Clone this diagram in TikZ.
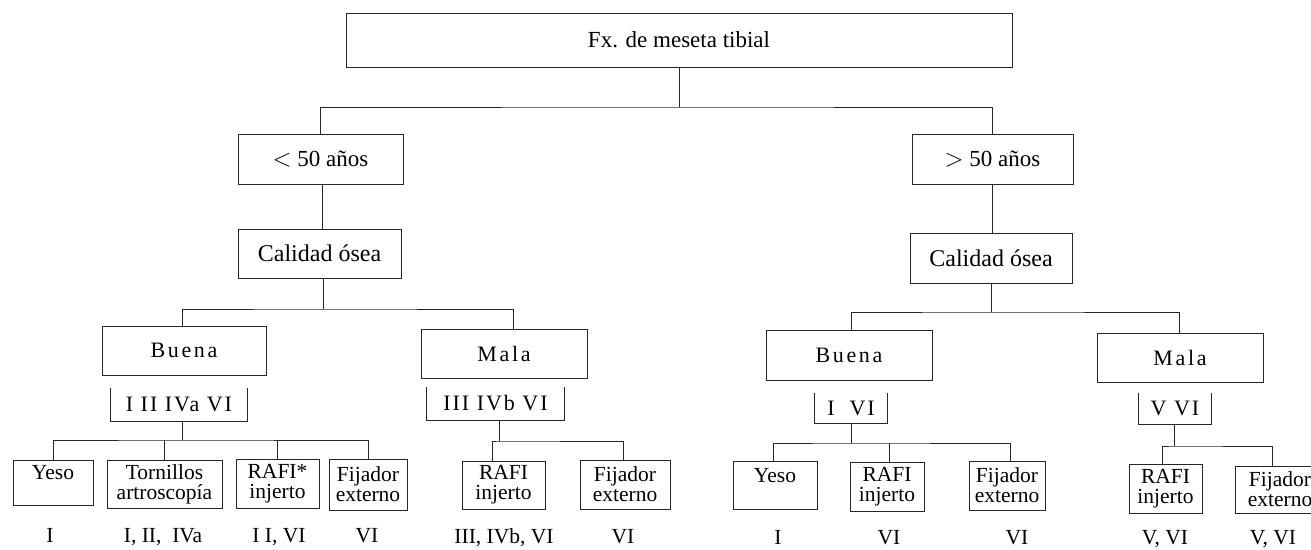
\documentclass[tikz,border=0pt]{standalone}
\usepackage{fontspec}
\setmainfont{Liberation Serif}
\newfontfamily\spacedA[LetterSpace=12]{Liberation Serif}
\newfontfamily\spacedB[LetterSpace=9]{Liberation Serif}
\begin{document}
\begin{tikzpicture}[x=1pt,y=-1pt,
  line/.style={line width=1pt, draw=black!85},
  box/.style={draw=black!85, line width=1pt, inner sep=0pt, align=center, font=\fontsize{23}{24}\selectfont},
  leaf/.style={box, font=\fontsize{21.5}{20}\selectfont},
  mid/.style={box, font=\spacedA\fontsize{22}{22}\selectfont},
  brk/.style={inner sep=0pt, font=\spacedB\fontsize{22}{22}\selectfont},
  lab/.style={anchor=base, inner sep=0pt, font=\fontsize{21.5}{22}\selectfont}]
\useasboundingbox (0,0) rectangle (1311,549);

% top levels
\node[box, minimum width=666pt, minimum height=54pt] (top) at (679,40) {Fx. de meseta tibial};
\node[box, minimum width=165pt, minimum height=50pt] (lt) at (320.5,159) {$<$ 50 años};
\node[box, minimum width=161pt, minimum height=50pt] (gt) at (992.5,159) {$>$ 50 años};
\node[box, minimum width=163pt, minimum height=49pt, font=\fontsize{24}{24}\selectfont] (calL) at (319.5,253.5) {Calidad ósea};
\node[box, minimum width=162pt, minimum height=50pt, font=\fontsize{24}{24}\selectfont] (calR) at (991,258) {Calidad ósea};

% quality
\node[mid, minimum width=164pt, minimum height=49pt] (buL) at (184,350.5) {Buena};
\node[mid, minimum width=166pt, minimum height=49pt] (maL) at (504,353.5) {Mala};
\node[mid, minimum width=166pt, minimum height=50pt] (buR) at (849,355) {Buena};
\node[mid, minimum width=166pt, minimum height=49pt] (maR) at (1180,357.5) {Mala};

% brackets
\node[brk, minimum width=136pt, minimum height=33pt] (b1) at (179,404.5) {I II IVa VI};
\node[brk, minimum width=137pt, minimum height=33pt] (b2) at (495.5,403.5) {III IVb VI};
\node[brk, minimum width=72pt, minimum height=30pt] (b3) at (851,408) {I \ VI};
\node[brk, minimum width=72pt, minimum height=31pt] (b4) at (1175,408.5) {V VI};
\foreach \b in {b1,b2,b3,b4}
  \draw[line] (\b.north west) -- (\b.south west) -- (\b.south east) -- (\b.north east);

% leaves
\node[leaf, minimum width=80pt, minimum height=45pt] (yL) at (53,482.5) {Yeso\\~};
\node[leaf, minimum width=115pt, minimum height=48pt] (toL) at (164.5,484) {Tornillos\\artroscopía};
\node[leaf, minimum width=83pt, minimum height=49pt] (raL) at (277.5,483.5) {RAFI*\\injerto};
\node[leaf, minimum width=78pt, minimum height=51pt] (fiL) at (368,484.5) {Fijador\\externo};
\node[leaf, minimum width=83pt, minimum height=48pt] (raM) at (503.5,485) {RAFI\\injerto};
\node[leaf, minimum width=90pt, minimum height=49pt] (fiM) at (625,484.5) {Fijador\\externo};
\node[leaf, minimum width=84pt, minimum height=48pt] (yR) at (775,485) {Yeso\\~};
\node[leaf, minimum width=74pt, minimum height=49pt] (raR) at (887,486.5) {RAFI\\injerto};
\node[leaf, minimum width=76pt, minimum height=49pt] (fiR) at (1007,485.5) {Fijador\\externo};
\node[leaf, minimum width=73pt, minimum height=49pt] (raS) at (1165.5,488.5) {RAFI\\injerto};
\node[leaf, minimum width=90pt, minimum height=47pt] (fiS) at (1280,489.5) {Fijador\\externo};

% labels
\node[lab] (l1) at (50,542) {I};
\node[lab] (l2) at (163,542) {I, II,\ \ IVa};
\node[lab] (l3) at (279,542) {I I, VI};
\node[lab] (l4) at (367,542) {VI};
\node[lab] (l5) at (504,543) {III, IVb, VI};
\node[lab] (l6) at (623,543) {VI};
\node[lab] (l7) at (778,544) {I};
\node[lab] (l8) at (889,544) {VI};
\node[lab] (l9) at (1017,544) {VI};
\node[lab] (l10) at (1165,544) {V, VI};
\node[lab] (l11) at (1273,544) {V, VI};

% connectors
\coordinate (j0) at (679,107);
\draw[line] (top.south) -- (j0);
\draw[line] (lt.north) |- (j0) -| (gt.north);
\draw[line] ([xshift=1.5pt]lt.south) -- ([xshift=2.5pt]calL.north);
\draw[line] (gt.south) -- ([xshift=1.5pt]calR.north);

\coordinate (j1) at (323,309);
\draw[line] (calL.south -| j1) -- (j1);
\draw[line] ([xshift=-2pt]buL.north) |- (j1) -| ([xshift=9pt]maL.north);

\coordinate (j2) at (991,312);
\draw[line] (calR.south -| j2) -- (j2);
\draw[line] ([xshift=2pt]buR.north) |- (j2) -| ([xshift=-1pt]maR.north);

\coordinate (k1) at (182,440);
\draw[line] (b1.south -| k1) -- (k1);
\draw[line] (yL.north) |- (k1) -| (fiL.north);
\draw[line] (toL.north) -- (toL.north |- k1);
\draw[line] (raL.north) -- (raL.north |- k1);

\coordinate (k2) at (499,441);
\draw[line] (b2.south -| k2) -- (k2);
\draw[line] ([xshift=-11.5pt]raM.north) |- (k2) -| ([xshift=-2pt]fiM.north);

\coordinate (k3) at (851,443);
\draw[line] (b3.south -| k3) -- (k3);
\draw[line] ([xshift=-2pt]yR.north) |- (k3) -| ([xshift=3pt]fiR.north);
\draw[line] ([xshift=2pt]raR.north) -- ([xshift=2pt]raR.north |- k3);

\coordinate (k4) at (1174,446);
\draw[line] (b4.south -| k4) -- (k4);
\draw[line] ([xshift=-3.5pt]raS.north) |- (k4) -| ([xshift=-8pt]fiS.north);
\end{tikzpicture}
\end{document}
